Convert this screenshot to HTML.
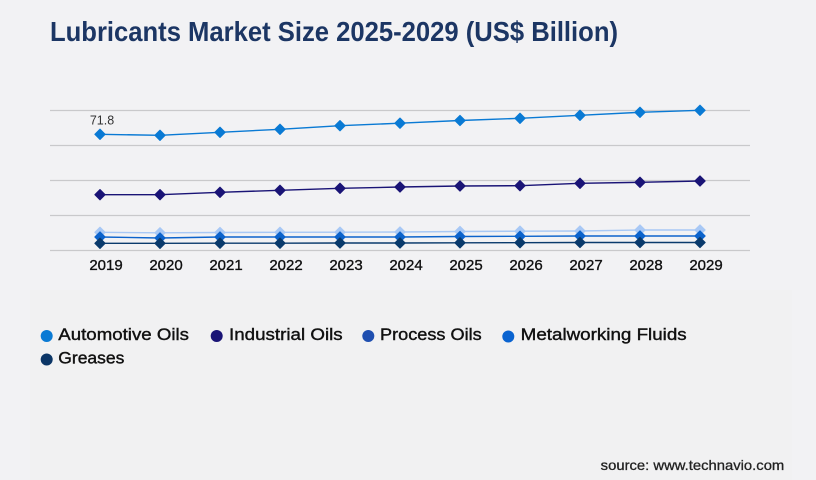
<!DOCTYPE html>
<html><head><meta charset="utf-8"><style>
html,body{margin:0;padding:0;background:#f2f2f4;}
svg{display:block;}
text{font-family:"Liberation Sans",sans-serif;}
</style></head><body>
<svg width="816" height="480" viewBox="0 0 816 480" xmlns="http://www.w3.org/2000/svg">
<rect x="0" y="0" width="816" height="480" fill="#f2f2f4"/>
<rect x="30" y="290" width="762" height="190" fill="#f1f1f2"/>
<text x="50" y="41" font-size="28" font-weight="bold" fill="#1c3664" textLength="568" lengthAdjust="spacingAndGlyphs">Lubricants Market Size 2025-2029 (US$ Billion)</text>
<g stroke="#c9c9cb" stroke-width="1.2">
<line x1="50" y1="110.5" x2="750" y2="110.5"/>
<line x1="50" y1="145.5" x2="750" y2="145.5"/>
<line x1="50" y1="180.5" x2="750" y2="180.5"/>
<line x1="50" y1="215.5" x2="750" y2="215.5"/>
<line x1="50" y1="250.5" x2="750" y2="250.5"/>
</g>
<defs>
<path id="dm" d="M0,-5.2 L5.2,0 L0,5.2 L-5.2,0 Z" stroke-linejoin="round"/>
</defs>
<!-- Metalworking light -->
<g fill="#a8c8f5" stroke="#a8c8f5">
<polyline fill="none" stroke-width="1.4" points="100,232.3 160,232.8 220,232.5 280,232.3 340,232.2 400,232 460,231.5 520,231.2 580,231 640,230 700,230"/>
<use href="#dm" x="100" y="232.3"/><use href="#dm" x="160" y="232.8"/><use href="#dm" x="220" y="232.5"/><use href="#dm" x="280" y="232.3"/><use href="#dm" x="340" y="232.2"/><use href="#dm" x="400" y="232"/><use href="#dm" x="460" y="231.5"/><use href="#dm" x="520" y="231.2"/><use href="#dm" x="580" y="231"/><use href="#dm" x="640" y="230"/><use href="#dm" x="700" y="230"/>
</g>
<!-- Process -->
<g fill="#0c63cc" stroke="#0c63cc">
<polyline fill="none" stroke-width="1.4" points="100,237 160,238 220,237 280,237 340,237 400,237 460,236.5 520,236.3 580,236 640,236 700,236"/>
<use href="#dm" x="100" y="237"/><use href="#dm" x="160" y="238"/><use href="#dm" x="220" y="237"/><use href="#dm" x="280" y="237"/><use href="#dm" x="340" y="237"/><use href="#dm" x="400" y="237"/><use href="#dm" x="460" y="236.5"/><use href="#dm" x="520" y="236.3"/><use href="#dm" x="580" y="236"/><use href="#dm" x="640" y="236"/><use href="#dm" x="700" y="236"/>
</g>
<!-- Greases -->
<g fill="#0a3a6c" stroke="#0a3a6c">
<polyline fill="none" stroke-width="1.4" points="100,243.3 160,243.3 220,243.2 280,243.2 340,243 400,243 460,242.8 520,242.7 580,242.5 640,242.5 700,242.5"/>
<use href="#dm" x="100" y="243.3"/><use href="#dm" x="160" y="243.3"/><use href="#dm" x="220" y="243.2"/><use href="#dm" x="280" y="243.2"/><use href="#dm" x="340" y="243"/><use href="#dm" x="400" y="243"/><use href="#dm" x="460" y="242.8"/><use href="#dm" x="520" y="242.7"/><use href="#dm" x="580" y="242.5"/><use href="#dm" x="640" y="242.5"/><use href="#dm" x="700" y="242.5"/>
</g>
<!-- Industrial -->
<g fill="#1a1476" stroke="#1a1476">
<polyline fill="none" stroke-width="1.4" points="100,194.7 160,194.7 220,192.3 280,190.3 340,188.3 400,187 460,186 520,185.7 580,183.3 640,182.3 700,181"/>
<use href="#dm" x="100" y="194.7"/><use href="#dm" x="160" y="194.7"/><use href="#dm" x="220" y="192.3"/><use href="#dm" x="280" y="190.3"/><use href="#dm" x="340" y="188.3"/><use href="#dm" x="400" y="187"/><use href="#dm" x="460" y="186"/><use href="#dm" x="520" y="185.7"/><use href="#dm" x="580" y="183.3"/><use href="#dm" x="640" y="182.3"/><use href="#dm" x="700" y="181"/>
</g>
<!-- Automotive -->
<g fill="#0a7ad4" stroke="#0a7ad4">
<polyline fill="none" stroke-width="1.4" points="100,134.3 160,135.3 220,132.3 280,129.3 340,125.7 400,123.2 460,120.5 520,118.3 580,115.3 640,112.3 700,110.3"/>
<use href="#dm" x="100" y="134.3"/><use href="#dm" x="160" y="135.3"/><use href="#dm" x="220" y="132.3"/><use href="#dm" x="280" y="129.3"/><use href="#dm" x="340" y="125.7"/><use href="#dm" x="400" y="123.2"/><use href="#dm" x="460" y="120.5"/><use href="#dm" x="520" y="118.3"/><use href="#dm" x="580" y="115.3"/><use href="#dm" x="640" y="112.3"/><use href="#dm" x="700" y="110.3"/>
</g>
<text x="102" y="124.3" font-size="12.5" fill="#333" text-anchor="middle">71.8</text>
<g font-size="15" fill="#111" stroke="#111" stroke-width="0.35" text-anchor="middle">
<text x="106" y="270">2019</text>
<text x="166" y="270">2020</text>
<text x="226" y="270">2021</text>
<text x="286" y="270">2022</text>
<text x="346" y="270">2023</text>
<text x="406" y="270">2024</text>
<text x="466" y="270">2025</text>
<text x="526" y="270">2026</text>
<text x="586" y="270">2027</text>
<text x="646" y="270">2028</text>
<text x="706" y="270">2029</text>
</g>
<circle cx="46.7" cy="336" r="6" fill="#0a7ad4"/>
<circle cx="216.7" cy="336" r="6" fill="#1a1476"/>
<circle cx="368.3" cy="336" r="6" fill="#1f4fb0"/>
<circle cx="508.3" cy="336.5" r="6" fill="#0a63d0"/>
<circle cx="46.7" cy="359.5" r="6" fill="#0b3566"/>
<g font-size="17" fill="#111" stroke="#111" stroke-width="0.4">
<text x="58.3" y="340" textLength="130.7" lengthAdjust="spacingAndGlyphs">Automotive Oils</text>
<text x="229" y="340" textLength="113.7" lengthAdjust="spacingAndGlyphs">Industrial Oils</text>
<text x="380" y="340" textLength="101.7" lengthAdjust="spacingAndGlyphs">Process Oils</text>
<text x="520.7" y="340" textLength="166" lengthAdjust="spacingAndGlyphs">Metalworking Fluids</text>
<text x="58.3" y="363.5" textLength="66" lengthAdjust="spacingAndGlyphs">Greases</text>
</g>
<text x="600.7" y="470" font-size="14" fill="#222" stroke="#222" stroke-width="0.3" textLength="183.6" lengthAdjust="spacingAndGlyphs">source: www.technavio.com</text>
</svg>
</body></html>
